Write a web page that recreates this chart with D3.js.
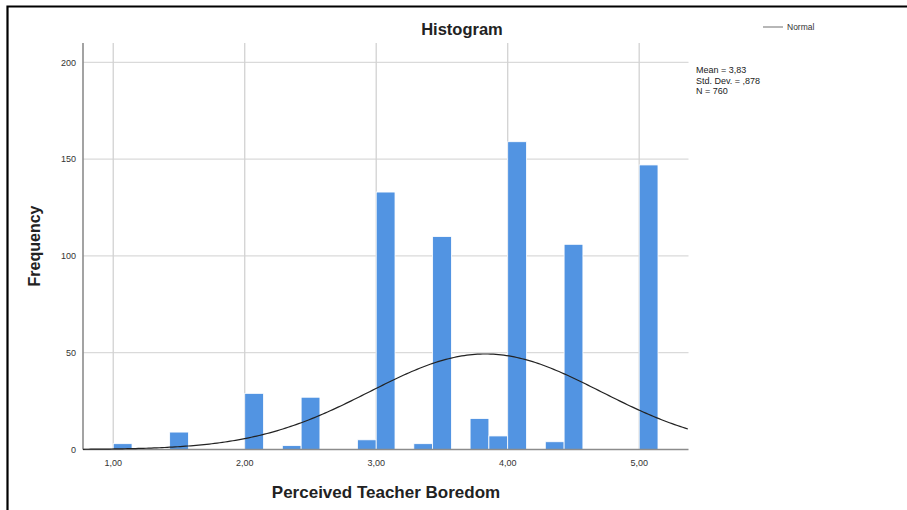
<!DOCTYPE html>
<html lang="en">
<head>
  <meta charset="UTF-8">
  <title>Histogram</title>
  <script src="https://d3js.org/d3.v7.min.js"></script>
  <style>
    body { margin: 0; background: #fff; }
    text { font-family: "Liberation Sans", Arial, sans-serif; }
  </style>
</head>
<body>
  <div class="canvas"></div>
  <script>
    // histogram bins (lower edge) and their frequencies
    const binStarts = [1.000, 1.429, 2.000, 2.286, 2.429, 2.857, 3.000, 3.286, 3.429, 3.714, 3.857, 4.000, 4.286, 4.429, 5.000];
    const counts = [3, 9, 29, 2, 27, 5, 133, 3, 110, 16, 7, 159, 4, 106, 147];
    const binWidth = 0.1429;

    const xTicks = [1, 2, 3, 4, 5];
    const xTickLabels = ['1,00', '2,00', '3,00', '4,00', '5,00'];
    const yTicks = [0, 50, 100, 150, 200];

    const mean = 3.83;
    const sd = 0.878;
    const n = 760;
    const statLines = ['Mean = 3,83', 'Std. Dev. = ,878', 'N = 760'];

    const width = 907, height = 510;
    const svg = d3.select('.canvas')
      .append('svg')
      .attr('width', width)
      .attr('height', height);

    // frame of the pasted figure
    svg.append('path')
      .attr('d', `M7.5,${height} V6.5 H${width}`)
      .attr('fill', 'none')
      .attr('stroke', '#000')
      .attr('stroke-width', 2.2);

    const x = d3.scaleLinear().domain([0.77, 5.375]).range([83, 688.5]);
    const y = d3.scaleLinear().domain([0, 210]).range([449.5, 43]);

    // grid
    svg.append('g').selectAll('line')
      .data(yTicks.filter(d => d > 0))
      .enter().append('line')
      .attr('x1', x.range()[0]).attr('x2', x.range()[1])
      .attr('y1', d => y(d)).attr('y2', d => y(d))
      .attr('stroke', '#dadada').attr('stroke-width', 1.3);

    svg.append('g').selectAll('line')
      .data(xTicks)
      .enter().append('line')
      .attr('x1', d => x(d)).attr('x2', d => x(d))
      .attr('y1', y.range()[0]).attr('y2', y.range()[1])
      .attr('stroke', '#d2d2d2').attr('stroke-width', 1.3);

    // bars
    svg.append('g').selectAll('rect')
      .data(binStarts.map((s, i) => ({ x0: s, x1: s + binWidth, count: counts[i] })))
      .enter().append('rect')
      .attr('x', d => x(d.x0))
      .attr('width', d => x(d.x1) - x(d.x0))
      .attr('y', d => y(d.count))
      .attr('height', d => y(0) - y(d.count))
      .attr('fill', '#5294e2')
      .attr('stroke', '#fff')
      .attr('stroke-width', 0.8);

    // axes lines
    svg.append('line')
      .attr('x1', x.range()[0]).attr('x2', x.range()[1])
      .attr('y1', y(0)).attr('y2', y(0))
      .attr('stroke', '#8c8c8c').attr('stroke-width', 1.6);
    svg.append('line')
      .attr('x1', x.range()[0]).attr('x2', x.range()[0])
      .attr('y1', y.range()[0]).attr('y2', y.range()[1])
      .attr('stroke', '#8c8c8c').attr('stroke-width', 1.6);

    // normal curve
    const scale = n * binWidth / (sd * Math.sqrt(2 * Math.PI));
    const curveX = d3.range(x.domain()[0], x.domain()[1] + 0.001, 0.02);
    svg.append('path')
      .datum(curveX)
      .attr('fill', 'none')
      .attr('stroke', '#222')
      .attr('stroke-width', 1.2)
      .attr('d', d3.line()
        .x(d => x(d))
        .y(d => y(scale * Math.exp(-0.5 * ((d - mean) / sd) ** 2))));

    // tick labels
    svg.append('g').selectAll('text')
      .data(yTicks)
      .enter().append('text')
      .attr('x', 76)
      .attr('y', d => y(d))
      .attr('dy', '0.35em')
      .attr('text-anchor', 'end')
      .attr('font-size', 9)
      .attr('fill', '#333')
      .text(d => d);

    svg.append('g').selectAll('text')
      .data(xTicks)
      .enter().append('text')
      .attr('x', d => x(d))
      .attr('y', 463)
      .attr('dy', '0.35em')
      .attr('text-anchor', 'middle')
      .attr('font-size', 9)
      .attr('fill', '#333')
      .text((d, i) => xTickLabels[i]);

    // titles
    svg.append('text')
      .attr('x', 462).attr('y', 35)
      .attr('text-anchor', 'middle')
      .attr('font-size', 16.5).attr('font-weight', 'bold')
      .attr('fill', '#222')
      .text('Histogram');

    svg.append('text')
      .attr('x', 386).attr('y', 498)
      .attr('text-anchor', 'middle')
      .attr('font-size', 17).attr('font-weight', 'bold')
      .attr('fill', '#222')
      .text('Perceived Teacher Boredom');

    svg.append('text')
      .attr('transform', 'translate(40, 246) rotate(-90)')
      .attr('text-anchor', 'middle')
      .attr('font-size', 16).attr('font-weight', 'bold')
      .attr('fill', '#222')
      .text('Frequency');

    // legend
    svg.append('line')
      .attr('x1', 763).attr('x2', 783)
      .attr('y1', 27).attr('y2', 27)
      .attr('stroke', '#888').attr('stroke-width', 1.2);
    svg.append('text')
      .attr('x', 787).attr('y', 27)
      .attr('dy', '0.35em')
      .attr('font-size', 8.5)
      .attr('fill', '#333')
      .text('Normal');

    svg.append('g').selectAll('text')
      .data(statLines)
      .enter().append('text')
      .attr('x', 696)
      .attr('y', (d, i) => 70 + i * 10.5)
      .attr('dy', '0.35em')
      .attr('font-size', 9)
      .attr('fill', '#222')
      .text(d => d);
  </script>
</body>
</html>
